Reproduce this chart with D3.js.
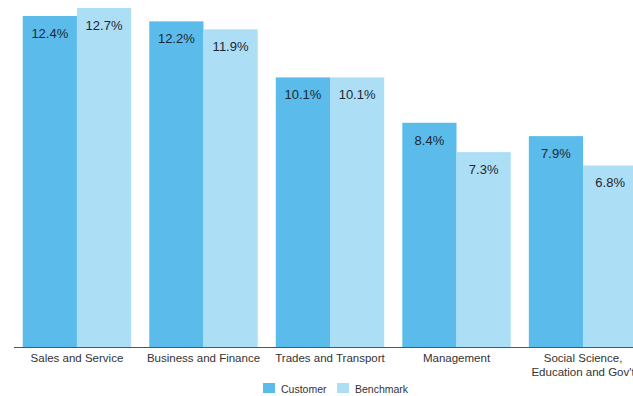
<!DOCTYPE html>
<html>
<head>
<meta charset="utf-8">
<script src="https://cdn.jsdelivr.net/npm/d3@7"></script>
<style>
  html, body { margin: 0; padding: 0; background: #fff; }
  svg { display: block; font-family: "Liberation Sans", Arial, Helvetica, sans-serif; }
</style>
</head>
<body>
<svg id="chart" width="633" height="396"></svg>
<script>
// Occupation groups and their shares (%)
const categories = ["Sales and Service", "Business and Finance", "Trades and Transport", "Management", "Social Science,\nEducation and Gov't"];
const seriesNames = ["Customer", "Benchmark"];
const customerValues = [12.4, 12.2, 10.1, 8.4, 7.9];
const benchmarkValues = [12.7, 11.9, 10.1, 7.3, 6.8];
const colors = ["#5bbcec", "#acdef6"];

const svg = d3.select("#chart");
const baseline = 347;

const x0 = d3.scaleBand()
  .domain(categories)
  .range([14, 646])
  .paddingInner(0.143)
  .paddingOuter(0.069);

const x1 = d3.scaleBand()
  .domain(seriesNames)
  .range([0, x0.bandwidth()])
  .padding(0);

const y = d3.scaleLinear().domain([0, 13]).range([baseline, 0]);

const color = d3.scaleOrdinal().domain(seriesNames).range(colors);

const rows = categories.map((c, i) => ({
  category: c,
  values: [
    { key: "Customer", value: customerValues[i] },
    { key: "Benchmark", value: benchmarkValues[i] }
  ]
}));

const groups = svg.append("g").selectAll("g")
  .data(rows)
  .join("g")
  .attr("transform", d => `translate(${x0(d.category)},0)`);

groups.selectAll("rect")
  .data(d => d.values)
  .join("rect")
  .attr("x", d => x1(d.key))
  .attr("y", d => y(d.value))
  .attr("width", x1.bandwidth())
  .attr("height", d => baseline - y(d.value))
  .attr("fill", d => color(d.key));

groups.selectAll("text.value")
  .data(d => d.values)
  .join("text")
  .attr("class", "value")
  .attr("x", d => x1(d.key) + x1.bandwidth() / 2)
  .attr("y", d => y(d.value) + 22)
  .attr("text-anchor", "middle")
  .attr("font-size", "13px")
  .attr("fill", "#1d2731")
  .text(d => d.value.toFixed(1) + "%");

// x axis: plain baseline with centred, possibly two-line labels
const xAxis = svg.append("g").attr("transform", `translate(0,${baseline})`)
  .call(d3.axisBottom(x0).tickSize(0).tickPadding(0).tickFormat(""));
xAxis.select(".domain").attr("stroke", "#555").attr("stroke-width", 1)
  .attr("d", `M14,0.5H646`);

const tickLabels = svg.append("g").selectAll("text")
  .data(categories)
  .join("text")
  .attr("x", d => x0(d) + x0.bandwidth() / 2)
  .attr("y", baseline + 15)
  .attr("text-anchor", "middle")
  .attr("font-size", "11.5px")
  .attr("fill", "#333");
tickLabels.each(function(d) {
  const lines = d.split("\n");
  d3.select(this).selectAll("tspan")
    .data(lines)
    .join("tspan")
    .attr("x", x0(d) + x0.bandwidth() / 2)
    .attr("dy", (l, i) => i === 0 ? 0 : 14)
    .text(l => l);
});

// legend
const legendX = [263, 337];
const legend = svg.append("g").selectAll("g")
  .data(seriesNames)
  .join("g")
  .attr("transform", (d, i) => `translate(${legendX[i]},383)`);
legend.append("rect")
  .attr("width", 12).attr("height", 10)
  .attr("fill", d => color(d));
legend.append("text")
  .attr("x", 18).attr("y", 10)
  .attr("font-size", "10.5px")
  .attr("fill", "#333")
  .text(d => d);
</script>
</body>
</html>
